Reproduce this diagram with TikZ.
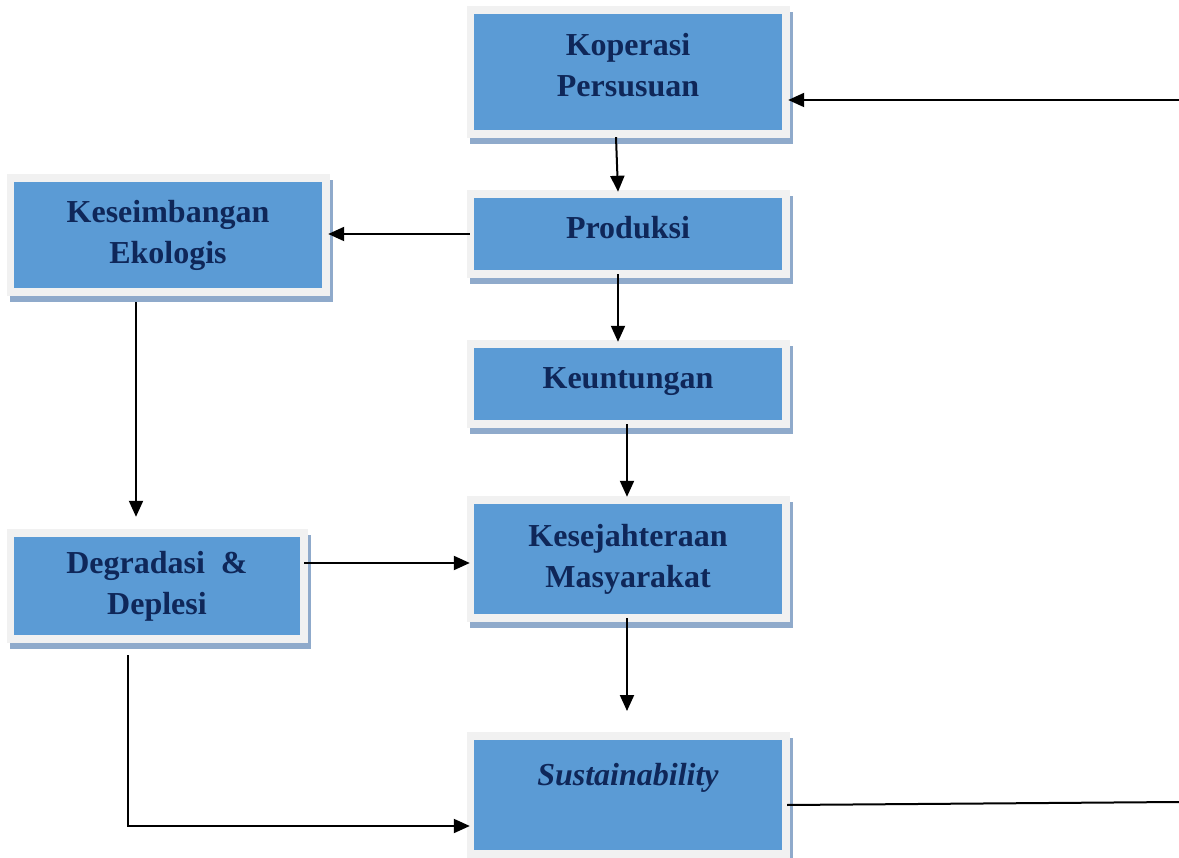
\documentclass[tikz,border=0pt]{standalone}
\usepackage{fontspec}
\setmainfont{Liberation Serif}
\usetikzlibrary{calc,arrows.meta}
\definecolor{boxblue}{HTML}{5B9BD5}
\definecolor{framegray}{HTML}{F1F1F1}
\definecolor{shadowc}{HTML}{8FAACB}
\definecolor{navy}{HTML}{0F2759}
\tikzset{
  bluebox/.style={fill=boxblue, inner sep=0pt, align=center, text=navy,
    font=\fontsize{32}{41}\selectfont\bfseries},
  arr/.style={line width=2pt, -{Triangle[length=16pt,width=14pt]}},
  plain/.style={line width=2pt}
}
% name, x1, y1, x2, y2 (blue area, image pixels), text
\newcommand\fbx[6]{%
  \fill[shadowc] ({#2-7+3},{#3-8+6}) rectangle ({#4+8+3},{#5+8+6});
  \fill[framegray] ({#2-7},{#3-8}) rectangle ({#4+8},{#5+8});
  \node[bluebox, minimum width={#4-#2}, minimum height={#5-#3}] (#1)
    at ({(#2+#4)/2},{(#3+#5)/2}) {#6};
}
\begin{document}
\begin{tikzpicture}[x=1pt,y=-1pt]
\useasboundingbox (0,0) rectangle (1179,858);
\fbx{kop}{474}{14}{782}{130}{Koperasi\\Persusuan\\[-26pt]\mbox{}}
\fbx{prod}{474}{198}{782}{270}{Produksi\\[-27pt]\mbox{}}
\fbx{keu}{474}{348}{782}{420}{Keuntungan\\[-29pt]\mbox{}}
\fbx{ksj}{474}{504}{782}{614}{Kesejahteraan\\Masyarakat}
\fbx{sus}{474}{740}{782}{850}{\textit{Sustainability}\\\mbox{}}
\fbx{kes}{14}{182}{322}{288}{Keseimbangan\\Ekologis}
\fbx{deg}{14}{537}{300}{635}{Degradasi\ \ \&\\Deplesi}

\coordinate (rin) at (1179,100);
\coordinate (kend) at (627,711);
\coordinate (send) at (1179,802);

\draw[arr] (rin) -- ($(kop.east|-rin)+(6,0)$);
\draw[arr] ($(kop.south)+(-12,7)$) -- ($(prod.north)+(-10,-6)$);
\draw[arr] ($(prod.west)+(-4,0)$) -- ($(kes.east)+(6,-1)$);
\draw[arr] ($(prod.south)+(-10,4)$) -- ($(keu.north)+(-10,-6)$);
\draw[arr] ($(keu.south)+(-1,4)$) -- ($(ksj.north)+(-1,-7)$);
\draw[arr] ($(kes.south)+(-32,14)$) -- ($(deg.north)+(-21,-20)$);
\draw[arr] ($(deg.east)+(4,-23)$) -- ($(ksj.west)+(-4,4)$);
\draw[arr] ($(ksj.south)+(-1,4)$) -- (kend);
\draw[arr] ($(deg.south)+(-29,20)$) |- ($(sus.west)+(-4,31)$);
\draw[plain] ($(sus.east)+(5,10)$) -- (send);
\end{tikzpicture}
\end{document}
